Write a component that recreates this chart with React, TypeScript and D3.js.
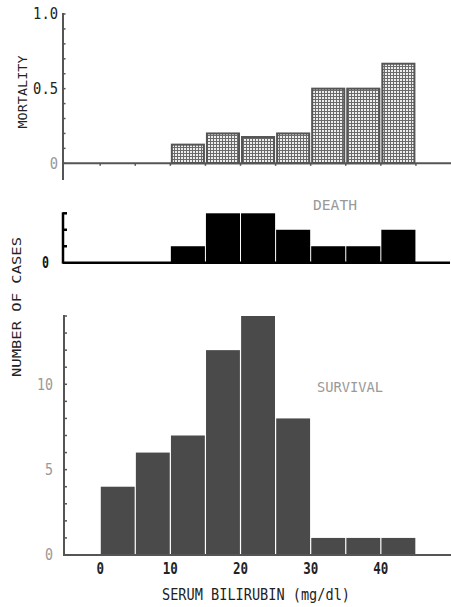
import React, { useEffect, useRef } from 'react';
import * as d3 from 'd3';

// bins of serum bilirubin (mg/dl), 5 units wide
const binStarts = [0, 5, 10, 15, 20, 25, 30, 35, 40];
const deathCounts = [0, 0, 1, 3, 3, 2, 1, 1, 2];
const survivalCounts = [4, 6, 7, 12, 14, 8, 1, 1, 1];
const mortality = [0, 0, 0.125, 0.2, 0.176, 0.2, 0.5, 0.5, 0.667];

const xTicks = [0, 10, 20, 30, 40];
const mortalityTicks = [
  { v: 1.0, label: '1.0' },
  { v: 0.5, label: '0.5' },
  { v: 0, label: '0' },
];
const survivalTicks = [10, 5, 0];

const W = 451;
const H = 607;
const FONT = '"DejaVu Sans Mono", "Liberation Mono", monospace';

export default function App() {
  const ref = useRef<SVGSVGElement>(null);

  useEffect(() => {
    const svg = d3.select(ref.current);
    svg.selectAll('*').remove();

    const x = d3.scaleLinear().domain([-5.3, 50]).range([63, 451]);
    const axisX = 63;

    // narrow typewriter-like label
    const label = (
      g: any,
      txt: string,
      px: number,
      py: number,
      size: number,
      width: number,
      fill: string,
      anchor = 'middle',
      weight = 'normal',
      rotate = false
    ) =>
      g
        .append('text')
        .attr('transform', `translate(${px},${py})${rotate ? ' rotate(-90)' : ''}`)
        .attr('dy', rotate ? 0 : '0.36em')
        .attr('text-anchor', anchor)
        .attr('fill', fill)
        .attr('textLength', width)
        .attr('lengthAdjust', 'spacingAndGlyphs')
        .style('font', `${weight} ${size}px ${FONT}`)
        .text(txt);

    // crosshatch pattern for mortality bars
    const defs = svg.append('defs');
    const pat = defs
      .append('pattern')
      .attr('id', 'hatch')
      .attr('width', 3)
      .attr('height', 3)
      .attr('patternUnits', 'userSpaceOnUse');
    pat.append('rect').attr('width', 3).attr('height', 3).attr('fill', '#eeeeee');
    pat.append('rect').attr('width', 3).attr('height', 1).attr('fill', '#6a6a6a');
    pat.append('rect').attr('width', 1).attr('height', 3).attr('fill', '#6a6a6a');

    // ---------- top panel: mortality ----------
    const yTop = d3.scaleLinear().domain([0, 1]).range([163.3, 14]);
    const top = svg.append('g');

    top
      .selectAll('rect.m')
      .data(binStarts.map((b, i) => ({ b, v: mortality[i] })).filter((d) => d.v > 0))
      .enter()
      .append('rect')
      .attr('class', 'm')
      .attr('x', (d) => x(d.b) + 1.5)
      .attr('y', (d) => yTop(d.v))
      .attr('width', (d) => x(d.b + 5) - x(d.b) - 3)
      .attr('height', (d) => yTop(0) - yTop(d.v))
      .attr('fill', 'url(#hatch)')
      .attr('stroke', '#555')
      .attr('stroke-width', 2);

    top
      .append('line')
      .attr('x1', axisX)
      .attr('x2', W)
      .attr('y1', yTop(0))
      .attr('y2', yTop(0))
      .attr('stroke', '#555')
      .attr('stroke-width', 2);
    top
      .append('line')
      .attr('x1', axisX)
      .attr('x2', axisX)
      .attr('y1', yTop(1) - 1)
      .attr('y2', 180)
      .attr('stroke', '#555')
      .attr('stroke-width', 2);
    top
      .selectAll('line.tk')
      .data(d3.range(0, 11).map((i) => i / 10))
      .enter()
      .append('line')
      .attr('class', 'tk')
      .attr('x1', axisX - 1)
      .attr('x2', axisX + 2.5)
      .attr('y1', (d) => yTop(d))
      .attr('y2', (d) => yTop(d))
      .attr('stroke', '#555')
      .attr('stroke-width', 1.5);
    top
      .selectAll('line.xt')
      .data(d3.range(0, 50, 5))
      .enter()
      .append('line')
      .attr('class', 'xt')
      .attr('x1', (d) => x(d))
      .attr('x2', (d) => x(d))
      .attr('y1', yTop(0))
      .attr('y2', yTop(0) + 2.5)
      .attr('stroke', '#555')
      .attr('stroke-width', 1.5);
    mortalityTicks.forEach((t) =>
      label(top, t.label, 58, yTop(t.v), 15, t.label.length * 8.3, t.v === 0 ? '#999' : '#222', 'end')
    );
    label(top, 'MORTALITY', 27, 92, 12, 73, '#222', 'middle', 'normal', true);

    // ---------- middle panel: death ----------
    const yMid = d3.scaleLinear().domain([0, 3]).range([262.7, 213.3]);
    const mid = svg.append('g');
    mid
      .selectAll('rect.d')
      .data(binStarts.map((b, i) => ({ b, v: deathCounts[i] })).filter((d) => d.v > 0))
      .enter()
      .append('rect')
      .attr('class', 'd')
      .attr('x', (d) => x(d.b) + 0.5)
      .attr('y', (d) => yMid(d.v))
      .attr('width', (d) => x(d.b + 5) - x(d.b) - 1)
      .attr('height', (d) => yMid(0) - yMid(d.v))
      .attr('fill', '#000');
    mid
      .append('line')
      .attr('x1', axisX)
      .attr('x2', 450)
      .attr('y1', yMid(0))
      .attr('y2', yMid(0))
      .attr('stroke', '#000')
      .attr('stroke-width', 2.5);
    mid
      .append('line')
      .attr('x1', axisX)
      .attr('x2', axisX)
      .attr('y1', yMid(3) - 1)
      .attr('y2', yMid(0) + 1)
      .attr('stroke', '#000')
      .attr('stroke-width', 2.5);
    mid
      .selectAll('line.tk')
      .data([1, 2, 3])
      .enter()
      .append('line')
      .attr('class', 'tk')
      .attr('x1', axisX)
      .attr('x2', axisX + 4)
      .attr('y1', (d) => yMid(d))
      .attr('y2', (d) => yMid(d))
      .attr('stroke', '#000')
      .attr('stroke-width', 2.5);
    label(mid, '0', 49, yMid(0), 15, 7, '#111', 'end', 'bold');
    label(mid, 'DEATH', 335, 205, 14, 44, '#999');

    // ---------- bottom panel: survival ----------
    const yBot = d3.scaleLinear().domain([0, 14]).range([555, 316]);
    const bot = svg.append('g');
    bot
      .selectAll('rect.s')
      .data(binStarts.map((b, i) => ({ b, v: survivalCounts[i] })))
      .enter()
      .append('rect')
      .attr('class', 's')
      .attr('x', (d) => x(d.b) + 0.6)
      .attr('y', (d) => yBot(d.v))
      .attr('width', (d) => x(d.b + 5) - x(d.b) - 1.2)
      .attr('height', (d) => yBot(0) - yBot(d.v))
      .attr('fill', '#4a4a4a');
    bot
      .append('line')
      .attr('x1', axisX)
      .attr('x2', W)
      .attr('y1', yBot(0))
      .attr('y2', yBot(0))
      .attr('stroke', '#555')
      .attr('stroke-width', 2);
    bot
      .append('line')
      .attr('x1', axisX + 1)
      .attr('x2', axisX + 1)
      .attr('y1', yBot(14) - 1)
      .attr('y2', yBot(0))
      .attr('stroke', '#555')
      .attr('stroke-width', 2);
    bot
      .selectAll('line.tk')
      .data(d3.range(1, 15))
      .enter()
      .append('line')
      .attr('class', 'tk')
      .attr('x1', axisX + 1)
      .attr('x2', axisX + 4)
      .attr('y1', (d) => yBot(d))
      .attr('y2', (d) => yBot(d))
      .attr('stroke', '#555')
      .attr('stroke-width', 1.5);
    survivalTicks.forEach((t) =>
      label(bot, String(t), 53, yBot(t), 15, String(t).length * 8, '#999', 'end')
    );
    label(bot, 'SURVIVAL', 350, 387, 14, 66, '#999');

    // x-axis tick labels
    xTicks.forEach((t) =>
      label(bot, String(t), x(t), 568, 16, String(t).length * 7.5, '#222', 'middle', 'bold')
    );
    label(bot, 'SERUM BILIRUBIN (mg/dl)', 256, 595, 15, 188, '#222');

    // shared y label for the two count panels
    label(svg, 'NUMBER OF CASES', 21, 307, 12, 140, '#222', 'middle', 'normal', true);
  }, []);

  return (
    <svg
      ref={ref}
      width={W}
      height={H}
      style={{ position: 'absolute', left: 0, top: 0, background: '#fff' }}
    />
  );
}
